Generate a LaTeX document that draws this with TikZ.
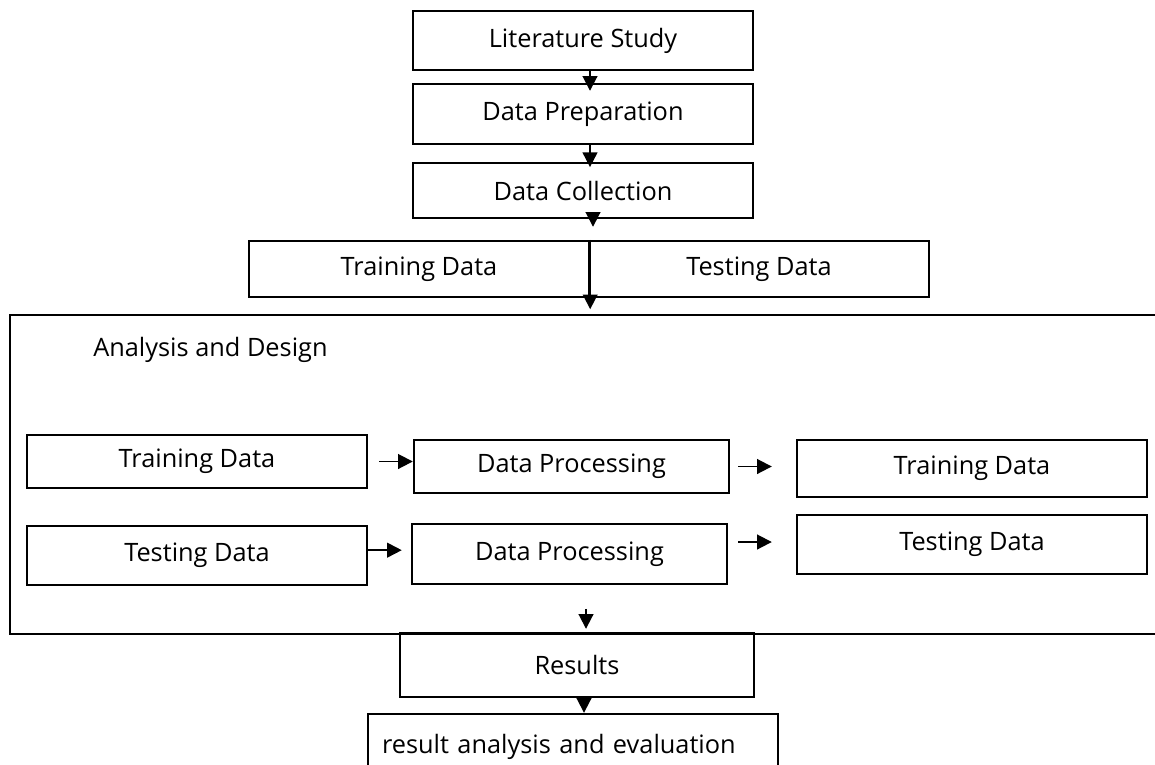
\documentclass[tikz,border=0pt]{standalone}
\usepackage{fontspec}
\setmainfont{Open Sans}
\usetikzlibrary{arrows.meta}
\tikzset{
  box/.style={draw, line width=1.8pt, minimum width=255pt, inner sep=0pt},
  arr/.style={line width=1.4pt, -{Triangle[length=11pt,width=11pt]}}
}
\begin{document}
\begin{tikzpicture}[x=0.75pt, y=-0.75pt, font=\fontsize{19}{22}\selectfont, line join=miter]
			\clip (0,0) rectangle (1155,764);
			% upper chain
			\node[box, minimum height=44.25pt] (lit) at (583,40.5) {Literature Study};
			\node[box, minimum height=45pt] (prep) at (583,114) {Data Preparation};
			\node[box, minimum height=41.25pt] (coll) at (583,190.5) {Data Collection};
			\node[box, minimum height=42pt] (train0) at (419,269) {Training Data};
			\node[box, minimum height=42pt] (test0) at (759,269) {Testing Data};
			\draw[arr] ([xshift=5.25pt]lit.south) -- ([xshift=5.25pt,yshift=-6pt]prep.north);
			\draw[arr] ([xshift=5.25pt]prep.south) -- ([xshift=5.25pt,yshift=-4pt]coll.north);
			\draw[arr] ([xshift=7.5pt]coll.south) -- ([xshift=7.5pt,yshift=9.75pt]coll.south |- train0.north);
			\draw[arr] (train0.north east) -- ([yshift=-8.25pt]train0.south east);
			% analysis and design
			\draw[line width=1.8pt] (1155,315) -| (10,634) -- (1155,634);
			\node[anchor=west, inner sep=0pt] (ad) at (93,350) {Analysis and Design};
			\node[box, minimum height=39.75pt] (trainL) at (197,461.5) {Training Data};
			\node[box, minimum height=44.25pt] (testL) at (197,555.5) {Testing Data};
			\node[box, minimum width=236.25pt, minimum height=39.75pt] (dp1) at (571.5,466.5) {Data Processing};
			\node[box, minimum width=236.25pt, minimum height=45pt] (dp2) at (569.5,554) {Data Processing};
			\node[box, minimum width=262.5pt, minimum height=42.75pt] (trainR) at (972,468.5) {Training Data};
			\node[box, minimum width=262.5pt, minimum height=44.25pt] (testR) at (972,544.5) {Testing Data};
			\draw[arr, shorten <=8.25pt] (trainL.east) -- (trainL.east -| dp1.west);
			\draw[arr, shorten >=6.75pt] ([yshift=4pt]testL.east) -- ([yshift=4pt]testL.east -| dp2.west);
			\draw[arr, shorten <=6pt, shorten >=18pt] (dp1.east) -- (dp1.east -| trainR.west);
			\draw[arr, shorten <=7.5pt, shorten >=18pt] ([yshift=9pt]dp2.east) -- ([yshift=9pt]dp2.east -| testR.west);
			% results
			\node[box, minimum width=265.5pt, minimum height=48pt] (res) at (577,665) {Results};
			\node[box, minimum width=307.5pt, text width=286.5pt, inner xsep=10.5pt, align=left, minimum height=49.5pt] (eval) at (573,747) {result analysis and evaluation};
			\draw[arr] ([xshift=6.75pt,yshift=17.25pt]res.north) -- ([xshift=6.75pt,yshift=2.25pt]res.north);
			\draw[arr] ([xshift=5.25pt]res.south) -- ([xshift=5.25pt]res.south |- eval.north);
		\end{tikzpicture}
\end{document}
